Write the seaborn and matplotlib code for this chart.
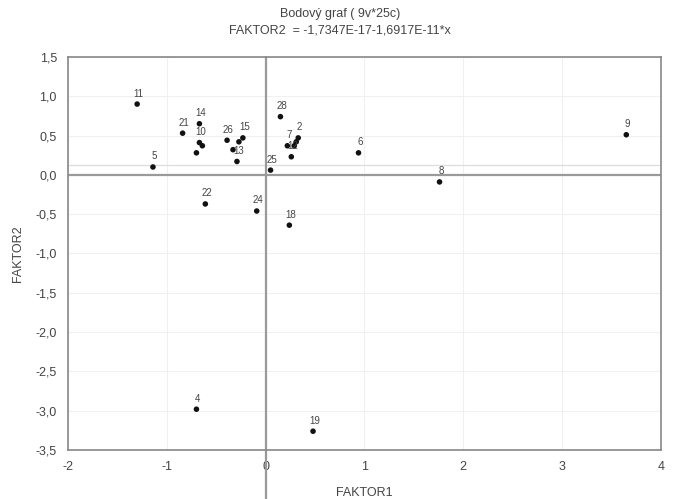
import numpy as np
import pandas as pd
import matplotlib
matplotlib.use("Agg")
import matplotlib.pyplot as plt
from matplotlib.ticker import MultipleLocator, FuncFormatter
import seaborn as sns

# Values (factor scores);
# points hidden inside a cluster carry no readable label
labels = ["11", "14", "21", "10", "", "", "26", "15", "", "", "13", "5",
          "28", "7", "2", "", "", "12", "25", "6", "9", "8", "22", "24",
          "18", "4", "19"]
faktor1 = [-1.30, -0.67, -0.84, -0.67, -0.64, -0.70, -0.39, -0.23, -0.27, -0.33,
           -0.29, -1.14, 0.15, 0.22, 0.33, 0.31, 0.29, 0.26, 0.05, 0.94, 3.65,
           1.76, -0.61, -0.09, 0.24, -0.70, 0.48]
faktor2 = [0.90, 0.65, 0.53, 0.41, 0.37, 0.28, 0.44, 0.47, 0.42, 0.32, 0.17,
           0.10, 0.74, 0.37, 0.47, 0.42, 0.37, 0.23, 0.06, 0.28, 0.51, -0.09,
           -0.37, -0.46, -0.64, -2.98, -3.26]

# regression line from the title
intercept = -1.7347e-17
slope = -1.6917e-11

df = pd.DataFrame({"FAKTOR1": faktor1, "FAKTOR2": faktor2, "label": labels})

sns.set_style("white")
plt.rcParams["font.family"] = ["Liberation Sans", "DejaVu Sans"]
text_col = "#444444"

fig = plt.figure(figsize=(6.73, 4.99), dpi=100)
ax = fig.add_axes([0.101, 0.098, 0.881, 0.788])

ax.set_xlim(-2, 4)
ax.set_ylim(-3.5, 1.5)

# faint grid
for xv in range(-2, 5):
    ax.axvline(xv, color="#f0f0f0", lw=0.8, zorder=0)
for yv in np.arange(-3.5, 1.51, 0.5):
    ax.axhline(yv, color="#f0f0f0", lw=0.8, zorder=0)

# zero / fitted line
xs = np.array([-2, 4])
ax.plot(xs, intercept + slope * xs, color="#9a9a9a", lw=1.6, zorder=1)
ax.axhline(0.13, color="#dddddd", lw=0.9, zorder=1)
ax.axvline(0, ymin=-0.25, ymax=1, color="#9a9a9a", lw=1.6, zorder=1, clip_on=False)

sns.scatterplot(data=df, x="FAKTOR1", y="FAKTOR2", ax=ax, color="#111111",
                s=16, edgecolor="none", zorder=3)

for _, r in df.iterrows():
    if not r["label"]:
        continue
    ax.annotate(r["label"], (r["FAKTOR1"], r["FAKTOR2"]), xytext=(1, 4),
                textcoords="offset points", ha="center", va="bottom",
                fontsize=7, color=text_col)

ax.xaxis.set_major_locator(MultipleLocator(1))
ax.xaxis.set_minor_locator(MultipleLocator(0.25))
ax.yaxis.set_major_locator(MultipleLocator(0.5))
ax.yaxis.set_minor_locator(MultipleLocator(0.1))
ax.yaxis.set_major_formatter(FuncFormatter(lambda v, p: f"{v:.1f}".replace(".", ",")))
ax.xaxis.set_major_formatter(FuncFormatter(lambda v, p: f"{v:.0f}"))
ax.tick_params(which="both", direction="in", color="#888888", labelcolor=text_col,
               labelsize=9, top=False, right=False)
ax.tick_params(which="major", length=4, pad=8)
ax.tick_params(which="minor", length=2)

for s in ax.spines.values():
    s.set_color("#888888")
    s.set_linewidth(1.2)

ax.set_xlabel("FAKTOR1", fontsize=9, color=text_col, labelpad=10)
ax.set_ylabel("FAKTOR2", fontsize=9, color=text_col, labelpad=8)
fig.text(0.505, 0.972, "Bodový graf ( 9v*25c)", ha="center", va="center",
         fontsize=9, color=text_col)
fig.text(0.505, 0.938, "FAKTOR2  = -1,7347E-17-1,6917E-11*x", ha="center",
         va="center", fontsize=9, color=text_col)

fig.savefig("out.png", dpi=100)
